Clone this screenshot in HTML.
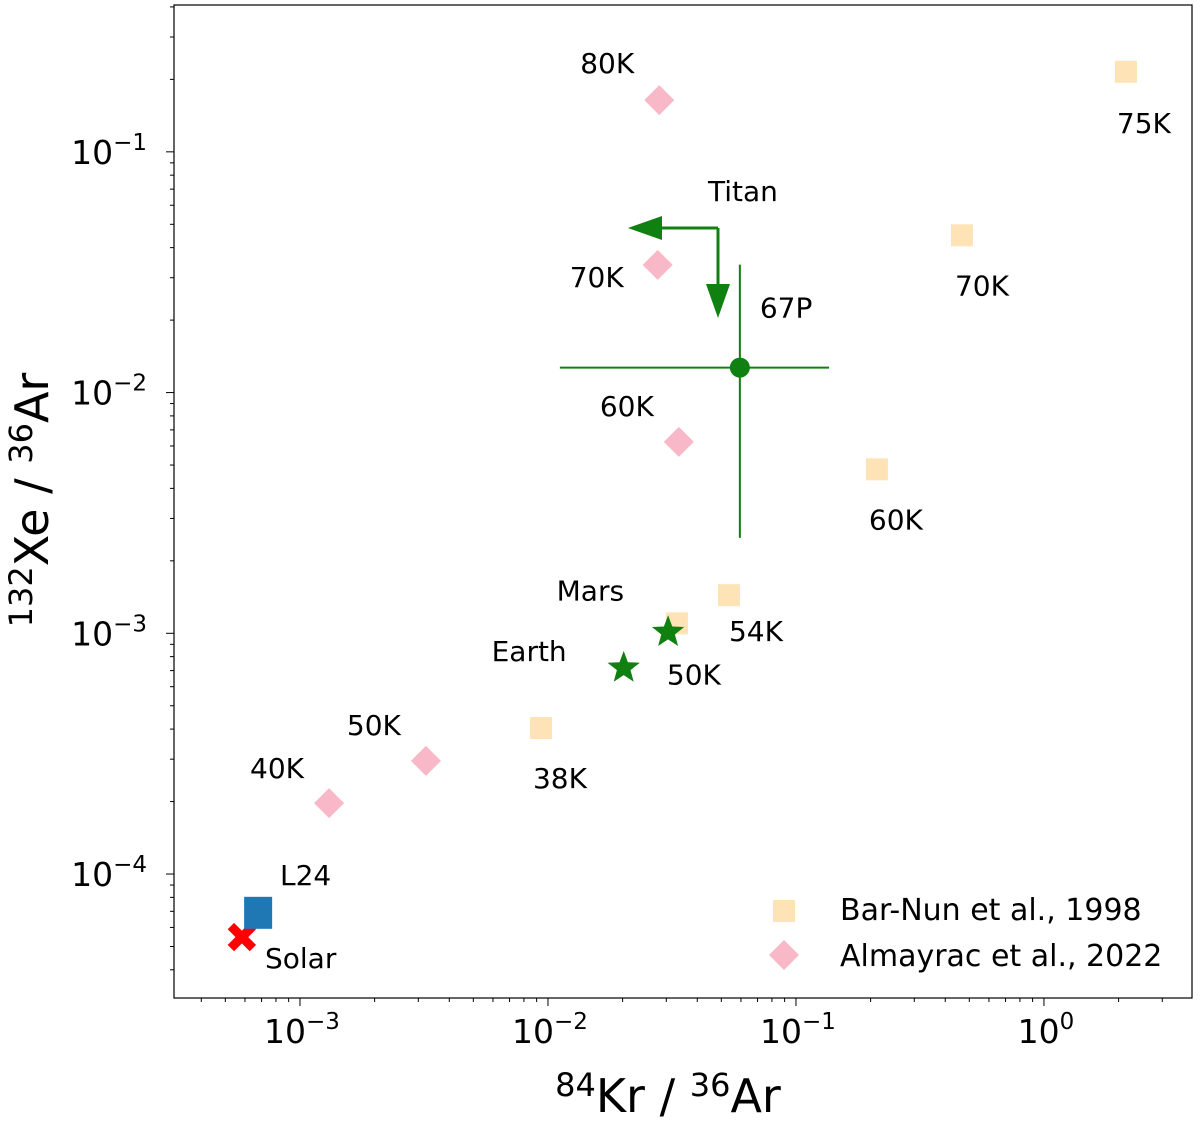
<!DOCTYPE html>
<html><head><meta charset="utf-8"><style>
body{margin:0;background:#fff;}
svg{display:block;font-family:"DejaVu Sans","Liberation Sans",sans-serif;}
</style></head><body>
<svg id="chart" width="1200" height="1123" xmlns="http://www.w3.org/2000/svg"></svg>
<script>
const barNunX=[2.14,0.467,0.212,0.0537,0.0331,0.00937];
const barNunY=[0.215,0.045,0.0048,0.00144,0.0011,0.000404];
const barNunLabels=["75K","70K","60K","54K","50K","38K"];
const almX=[0.0281,0.0277,0.0337,0.00322,0.00131];
const almY=[0.164,0.0339,0.00624,0.000295,0.000197];
const almLabels=["80K","70K","60K","50K","40K"];
const p67=[0.0594,0.0127];
const p67Xerr=[0.01117,0.136];
const p67Yerr=[0.00249,0.034];
const starX=[0.0202,0.0305];
const starY=[0.000718,0.00101];
const starLabels=["Earth","Mars"];
const l24=[0.000678,6.9e-5];
const solar=[0.000583,5.47e-5];
const xTickExp=[-3,-2,-1,0];
const yTickExp=[-4,-3,-2,-1];

const NS="http://www.w3.org/2000/svg";
const svg=document.getElementById('chart');
const L=174,R=1192,T=5,B=998;
const xmin=-3.508,xmax=0.597,ymin=-4.515,ymax=-0.390;
function X(v){return L+(Math.log10(v)-xmin)/(xmax-xmin)*(R-L);}
function Y(v){return B-(Math.log10(v)-ymin)/(ymax-ymin)*(B-T);}
function el(tag,attrs,parent){const e=document.createElementNS(NS,tag);for(const k in attrs)e.setAttribute(k,attrs[k]);(parent||svg).appendChild(e);return e;}
function txt(x,y,s,size,anchor,name){const t=el('text',{x:x,y:y,'font-size':size,'text-anchor':anchor||'start',fill:'#000'});t.innerHTML=s;

return t;}

const fr=el('rect',{x:L,y:T,width:R-L,height:B-T,fill:'none',stroke:'#000','stroke-width':1.2});



for(let e=-4;e<=1;e++){for(let m=1;m<10;m++){const v=m*Math.pow(10,e);const lv=Math.log10(v);
 if(lv>=xmin&&lv<=xmax){const x=X(v);const len=m==1?8:4;const t=el('line',{x1:x,x2:x,y1:B,y2:B+len,stroke:'#000','stroke-width':1});
 
 }}}
for(let e=-5;e<=0;e++){for(let m=1;m<10;m++){const v=m*Math.pow(10,e);const lv=Math.log10(v);
 if(lv>=ymin&&lv<=ymax){const y=Y(v);const len=m==1?8:4;const t=el('line',{x1:L-len,x2:L,y1:y,y2:y,stroke:'#000','stroke-width':1});
 
 }}}
xTickExp.forEach(e=>{txt(X(Math.pow(10,e))+2,1043,'10<tspan dy="-14" font-size="23">'+(e<0?'−'+(-e):e)+'</tspan>',33,'middle','x-tick-label');});
yTickExp.forEach(e=>{txt(L-27,Y(Math.pow(10,e))+12,'10<tspan dy="-14" font-size="23">−'+(-e)+'</tspan>',33,'end','y-tick-label');});

txt(668,1112,'<tspan dy="-16" font-size="32">84</tspan><tspan dy="16">Kr / </tspan><tspan dy="-16" font-size="32">36</tspan><tspan dy="16">Ar</tspan>',46,'middle','x-axis-title');
const yt=txt(0,0,'<tspan dy="-16" font-size="32">132</tspan><tspan dy="16">Xe / </tspan><tspan dy="-16" font-size="32">36</tspan><tspan dy="16">Ar</tspan>',46,'middle','y-axis-title');
yt.setAttribute('transform','translate(48,500) rotate(-90)');

const bnOff=[[-9,61],[-7,60],[-8,60],[0,46],[-10,61],[-8,60]];
barNunX.forEach((v,i)=>{const x=X(v),y=Y(barNunY[i]);
 const r=el('rect',{x:x-11,y:y-11,width:22,height:22,fill:'#fde3b6'});
 
 
 txt(x+bnOff[i][0],y+bnOff[i][1],barNunLabels[i],28,'start','bar-nun-label');
});
const alOff=[[-25,-27],[-34,22],[-25,-26],[-25,-26],[-25,-25]];
almX.forEach((v,i)=>{const x=X(v),y=Y(almY[i]);
 const p=el('polygon',{points:`${x},${y-15} ${x+15},${y} ${x},${y+15} ${x-15},${y}`,fill:'#f9b8c8'});
 
 
 txt(x+alOff[i][0],y+alOff[i][1],almLabels[i],28,'end','almayrac-label');
});
const g='#108010';
const cx=X(p67[0]),cy=Y(p67[1]);
let l1=el('line',{x1:X(p67Xerr[0]),x2:X(p67Xerr[1]),y1:cy,y2:cy,stroke:g,'stroke-width':2});


let l2=el('line',{x1:cx,x2:cx,y1:Y(p67Yerr[0]),y2:Y(p67Yerr[1]),stroke:g,'stroke-width':2});


const c=el('circle',{cx:cx,cy:cy,r:10,fill:g});


txt(cx+20,cy-50,'67P',28,'start','67p-label');
const ax=718,ay=228;
let a1=el('polyline',{points:`${ax},${ay} ${ax},${ay+60}`,stroke:g,'stroke-width':3,fill:'none'});


let h1=el('polygon',{points:`${ax-12},${ay+56} ${ax+12},${ay+56} ${ax},${ay+90}`,fill:g});


let a2=el('polyline',{points:`${ax},${ay} ${ax-60},${ay}`,stroke:g,'stroke-width':3,fill:'none'});


let h2=el('polygon',{points:`${ax-56},${ay-12} ${ax-56},${ay+12} ${ax-90},${ay}`,fill:g});


txt(708,201,'Titan',28,'start','titan-label');
function star(x,y,r){let pts=[];for(let k=0;k<10;k++){const a=-Math.PI/2+k*Math.PI/5;const rr=k%2?r*0.42:r;pts.push((x+rr*Math.cos(a)).toFixed(1)+','+(y+rr*Math.sin(a)).toFixed(1));}return pts.join(' ');}
const stOff=[[-57,-7],[-44,-32]];
starX.forEach((v,i)=>{const x=X(v),y=Y(starY[i]);
 const s=el('polygon',{points:star(x,y,17),fill:g});
 
 
 txt(x+stOff[i][0],y+stOff[i][1],starLabels[i],28,'end','planet-label');
});
const sx=X(solar[0]),sy=Y(solar[1]);
const xg=el('path',{d:`M${sx-11},${sy-11}L${sx+11},${sy+11}M${sx+11},${sy-11}L${sx-11},${sy+11}`,stroke:'#f00','stroke-width':9});


const bx=X(l24[0]),by=Y(l24[1]);
const bs=el('rect',{x:bx-14,y:by-16,width:28,height:32,fill:'#1f77b4'});


txt(280,885,'L24',28,'start','l24-label');
txt(265,968,'Solar',28,'start','solar-label');
const lg=el('g',{});


const ls=el('rect',{x:773,y:900,width:22,height:22,fill:'#fde3b6'},lg);


const ld=el('polygon',{points:'784,940 799,955 784,970 769,955',fill:'#f9b8c8'},lg);


txt(840,920,'Bar-Nun et al., 1998',30,'start','legend-entry-bar-nun');
txt(840,966,'Almayrac et al., 2022',30,'start','legend-entry-almayrac');
</script>
</body></html>
